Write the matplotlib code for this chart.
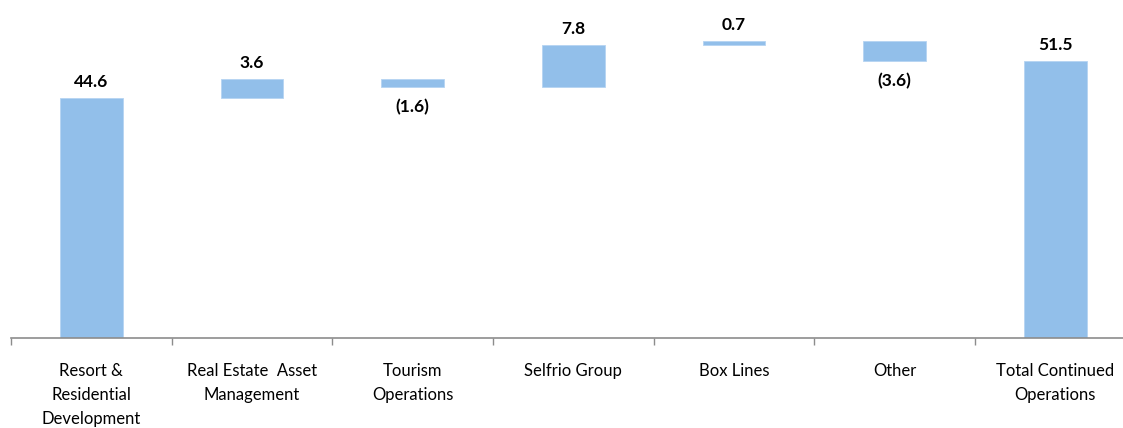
import matplotlib
matplotlib.use("Agg")
import matplotlib.pyplot as plt
import numpy as np

categories = [
    "Resort &\nResidential\nDevelopment",
    "Real Estate  Asset\nManagement",
    "Tourism\nOperations",
    "Selfrio Group",
    "Box Lines",
    "Other",
    "Total Continued\nOperations",
]
steps = [44.6, 3.6, -1.6, 7.8, 0.7, -3.6]
total = 51.5
value_labels = ["44.6", "3.6", "(1.6)", "7.8", "0.7", "(3.6)", "51.5"]

BAR_COLOR = "#92BFEA"
AXIS_COLOR = "#8C8C8C"
FONT = ["Lato", "DejaVu Sans"]

# waterfall: each step starts where the previous one ended
starts = np.concatenate([[0.0], np.cumsum(steps)[:-1]])
bottoms = list(starts + np.minimum(steps, 0)) + [0.0]
heights = list(np.abs(steps)) + [total]
signs = list(np.sign(steps)) + [1.0]

W, H = 1123, 428
fig = plt.figure(figsize=(W / 100, H / 100), dpi=100)
ax = fig.add_axes([11 / W, (H - 338.3) / H, 1124.5 / W, 338.3 / H])

x = np.arange(len(categories))
ax.bar(x, heights, bottom=bottoms, width=0.39, color=BAR_COLOR,
       edgecolor="#B5D4F2", linewidth=0.6)

for xi, b, h, s, lab in zip(x, bottoms, heights, signs, value_labels):
    if s >= 0:
        ax.annotate(lab, (xi, b + h), xytext=(0, 11.5), textcoords="offset points",
                    ha="center", va="center", fontsize=12.5, fontweight="bold",
                    family=FONT)
    else:
        ax.annotate(lab, (xi, b), xytext=(0, -14.5), textcoords="offset points",
                    ha="center", va="center", fontsize=12.5, fontweight="bold",
                    family=FONT)

ax.set_xlim(-0.5, len(categories) - 0.5)
ax.set_ylim(0, 338.3 / 5.39)

# boundary ticks for the marks, centre ticks for the labels
ax.set_xticks(np.arange(len(categories) + 1) - 0.5)
ax.set_xticklabels([])
ax.set_xticks(x, minor=True)
ax.set_xticklabels(categories, minor=True, fontsize=12, family=FONT,
                   linespacing=1.6)
ax.tick_params(axis="x", which="major", direction="out", length=5,
               width=1, color=AXIS_COLOR)
ax.tick_params(axis="x", which="minor", length=0, pad=18)

ax.set_yticks([])
for side in ["top", "right", "left"]:
    ax.spines[side].set_visible(False)
ax.spines["bottom"].set_color(AXIS_COLOR)
ax.spines["bottom"].set_linewidth(1.2)

fig.savefig("out.png", dpi=100)
